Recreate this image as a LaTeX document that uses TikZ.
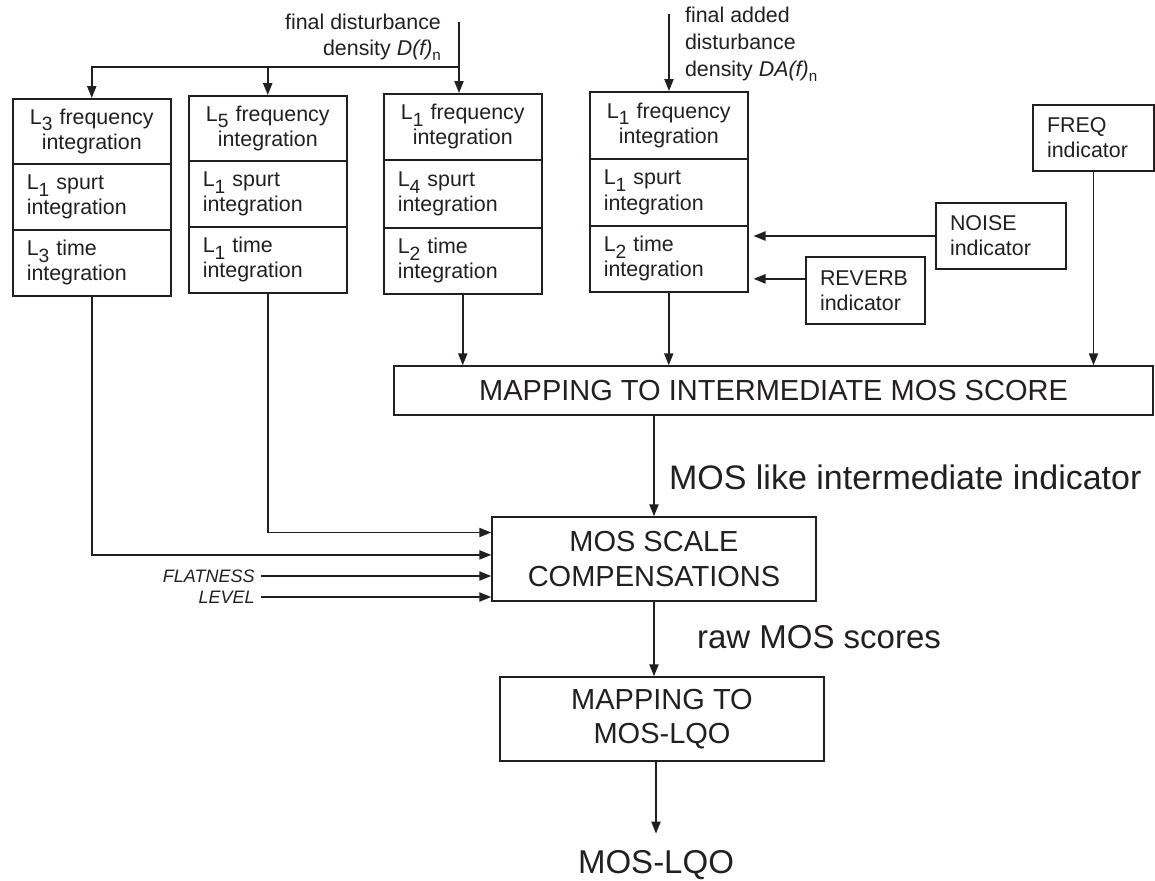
\documentclass[tikz,border=0pt]{standalone}
\usepackage{fontspec}
\setmainfont{Liberation Sans}
\usetikzlibrary{arrows.meta,calc}
\definecolor{ink}{RGB}{35,31,32}
\newcommand\lsub[1]{\smash{\raisebox{-3.4pt}{\fontsize{9.6}{10}\selectfont #1}}}
\newcommand\nsub[1]{\smash{\raisebox{-2.6pt}{\fontsize{7.6}{8}\selectfont #1}}}
\begin{document}
\begin{tikzpicture}[x=0.5pt,y=-0.5pt,
  base/.style={text=ink,font=\fontsize{10.7}{12.6}\selectfont},
  cellc/.style={base,draw=ink,line width=0.75pt,anchor=north west,text width=65pt,inner xsep=7pt,inner ysep=0pt,align=center},
  celll/.style={cellc,align=left},
  ind/.style={base,draw=ink,line width=0.75pt,align=left,inner xsep=7pt,inner ysep=0pt},
  big/.style={draw=ink,line width=0.75pt,align=center,text=ink,font=\fontsize{14.5}{17.2}\selectfont},
  lab/.style={text=ink,font=\fontsize{16.5}{19}\selectfont},
  side/.style={text=ink,font=\fontsize{9}{10}\selectfont\itshape},
  conn/.style={draw=ink,line width=0.8pt},
  arr/.style={conn,-{Triangle[length=6pt,width=4.6pt]}}]
\useasboundingbox (0,0) rectangle (1155,880);

% column 1
\node[cellc,minimum height=32.5pt] (c1a) at (12,98) {L\lsub{3} frequency\\integration};
\node[celll,minimum height=33pt] (c1b) at (12,163) {L\lsub{1} spurt\\integration};
\node[celll,minimum height=33pt] (c1c) at (12,229) {L\lsub{3} time\\integration};
% column 2
\node[cellc,minimum height=32.5pt] (c2a) at (188,95) {L\lsub{5} frequency\\integration};
\node[celll,minimum height=33pt] (c2b) at (188,160) {L\lsub{1} spurt\\integration};
\node[celll,minimum height=33pt] (c2c) at (188,226) {L\lsub{1} time\\integration};
% column 3
\node[cellc,minimum height=33pt] (c3a) at (383,93) {L\lsub{1} frequency\\integration};
\node[celll,minimum height=34pt] (c3b) at (383,159) {L\lsub{4} spurt\\integration};
\node[celll,minimum height=33pt] (c3c) at (383,227) {L\lsub{2} time\\integration};
% column 4
\node[cellc,minimum height=33.5pt] (c4a) at (589,91) {L\lsub{1} frequency\\integration};
\node[celll,minimum height=33.5pt] (c4b) at (589,158) {L\lsub{1} spurt\\integration};
\node[celll,minimum height=33pt] (c4c) at (589,225) {L\lsub{2} time\\integration};

% indicators
\node[ind,text width=51pt,minimum height=33pt] (noise) at (1001,236) {NOISE\\indicator};
\node[ind,text width=45.5pt,minimum height=33.5pt] (reverb) at (865.5,290.5) {REVERB\\indicator};
\node[ind,text width=46.5pt,minimum height=33pt] (freq) at (1093.5,138) {FREQ\\indicator};

% big boxes
\node[big,minimum width=379.5pt,minimum height=24.5pt] (map) at (773.5,390.5) {MAPPING TO INTERMEDIATE MOS SCORE};
\node[big,minimum width=162pt,minimum height=42pt] (comp) at (654,559) {MOS SCALE\\COMPENSATIONS};
\node[big,minimum width=162pt,minimum height=42pt] (lqo) at (662,719) {MAPPING TO\\MOS-LQO};
\node[lab,anchor=base,inner sep=0pt] (out) at (656,873) {MOS-LQO};

% input labels
\node[base,anchor=east,align=right,font=\fontsize{10.7}{13}\selectfont] (dlab) at (448,37) {final disturbance\\density \textit{D(f)}\nsub{n}};
\node[base,anchor=west,align=left,font=\fontsize{10.7}{13.5}\selectfont] (dalab) at (678,44) {final added\\disturbance\\density \textit{DA(f)}\nsub{n}};

% top inputs
\coordinate (dIn) at (459,22);
\coordinate (br) at (459,67);
\draw[arr] (dIn) -- (dIn |- c3a.north);
\draw[arr] (br) -| (c1a.north);
\draw[arr] (c2a.north |- br) -- (c2a.north);
\coordinate (daIn) at (669,14);
\draw[arr] (daIn) -- (daIn |- c4a.north);

% indicator arrows
\draw[arr,shorten >=2.5pt] (noise.west) -- (noise.west -| c4c.east);
\coordinate (rv) at ($(reverb.north west)!0.33!(reverb.south west)$);
\draw[arr,shorten >=2.5pt] (rv) -- (rv -| c4c.east);

% into mapping
\draw[arr] (c3c.south) -- (c3c.south |- map.north);
\draw[arr] (c4c.south) -- (c4c.south |- map.north);
\draw[arr] (freq.south) -- (freq.south |- map.north);

% mapping to compensation
\draw[arr] (map.south -| comp.north) -- (comp.north);
\node[lab,anchor=west,font=\fontsize{17}{19}\selectfont] (moslike) at (662,477) {MOS like intermediate indicator};

% inputs to compensation
\coordinate (in2) at ($(comp.north west)!0.19!(comp.south west)$);
\coordinate (in1) at ($(comp.north west)!0.452!(comp.south west)$);
\draw[arr] (c2c.south) |- (in2);
\draw[arr] (c1c.south) |- (in1);
\coordinate (fl) at (261,576);
\coordinate (lv) at (261,597);
\node[side,anchor=east,inner xsep=3pt] (flat) at (fl) {FLATNESS};
\node[side,anchor=east,inner xsep=3pt] (lev) at (lv) {LEVEL};
\draw[arr] (flat.east) -- (flat.east -| comp.west);
\draw[arr] (lev.east) -- (lev.east -| comp.west);

% compensation to final mapping
\draw[arr] (comp.south) -- (comp.south |- lqo.north);
\node[lab,anchor=west] (raw) at (690,637) {raw MOS scores};
\draw[arr,shorten >=8pt] (lqo.south -| out) -- (out.north);
\end{tikzpicture}
\end{document}
